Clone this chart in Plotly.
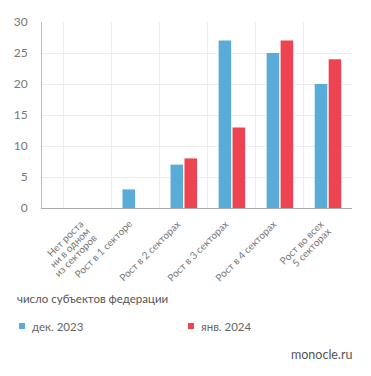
import plotly.graph_objects as go

categories = [
    "Нет роста<br>ни в одном<br>из секторов",
    "Рост в 1 секторе",
    "Рост в 2 секторах",
    "Рост в 3 секторах",
    "Рост в 4 секторах",
    "Рост во всех<br>5 секторах",
]
dec_2023 = [0, 3, 7, 27, 25, 20]
jan_2024 = [0, 0, 8, 13, 27, 24]
series_names = ["дек. 2023", "янв. 2024"]
colors = ["#5aacd8", "#ee4451"]
y_ticks = [0, 5, 10, 15, 20, 25, 30]

W, H = 371, 376
L, R, T, B = 42, 19, 22, 168
font = "Lato"
PW, PH = W - L - R, H - T - B

def px(x): return (x - L) / PW
def py(y): return (H - B - y) / PH

fig = go.Figure()
for name, vals, c in zip(series_names, [dec_2023, jan_2024], colors):
    fig.add_trace(go.Bar(x=categories, y=vals, name=name, marker_color=c,
                         marker_line_width=0, showlegend=False))

# category labels, line by line, rotated
label_font = dict(size=10, color="#777", family=font)
annotations = []
for cat in categories:
    lines = cat.split("<br>")
    for k, line in enumerate(lines):
        annotations.append(dict(
            text=line, x=cat, y=0, xref="x", yref="y", showarrow=False,
            textangle=-45, xanchor="right", yanchor="top",
            xshift=1 + 6.8 * k, yshift=-(7 + 6.8 * k), font=label_font))

annotations += [
    dict(text="число субъектов федерации", xref="paper", yref="paper",
         x=px(15), y=py(298), xanchor="left", yanchor="middle", showarrow=False,
         font=dict(size=11.5, color="#555")),
    dict(text="monocle.ru", xref="paper", yref="paper",
         x=px(354), y=py(354), xanchor="right", yanchor="middle", showarrow=False,
         font=dict(size=12.5, color="#555")),
]

# legend keys
shapes = []
legend_x = [19, 188]
for name, c, lx in zip(series_names, colors, legend_x):
    shapes.append(dict(type="rect", xref="paper", yref="paper",
                       x0=px(lx), x1=px(lx + 6), y0=py(329), y1=py(323),
                       fillcolor=c, line_width=0))
    annotations.append(dict(text=name, xref="paper", yref="paper",
                            x=px(lx + 11), y=py(326), xanchor="left", yanchor="middle",
                            showarrow=False, font=dict(size=11.5, color="#666")))

fig.update_layout(
    width=W, height=H,
    margin=dict(l=L, r=R, t=T, b=B, pad=0, autoexpand=False),
    paper_bgcolor="white", plot_bgcolor="white",
    font=dict(family=font, color="#666", size=12),
    barmode="group", bargap=0.42, bargroupgap=0.1,
    showlegend=False,
    xaxis=dict(type="category", tickson="boundaries", showgrid=True, gridcolor="#ececec",
               gridwidth=1, showticklabels=False,
               showline=True, linecolor="#aaa", linewidth=1, ticks="", fixedrange=True,
               automargin=False),
    yaxis=dict(range=[0, 30], tickvals=y_ticks, showgrid=True, gridcolor="#ececec",
               zeroline=False, showline=True, linecolor="#bbb", linewidth=1,
               tickfont=dict(size=12, color="#777"), ticks="", ticklabelstandoff=11,
               fixedrange=True, automargin=False),
    annotations=annotations,
    shapes=shapes,
)

fig.write_html("out.html", config={"displayModeBar": False},
               post_script="document.body.style.margin='0';")
